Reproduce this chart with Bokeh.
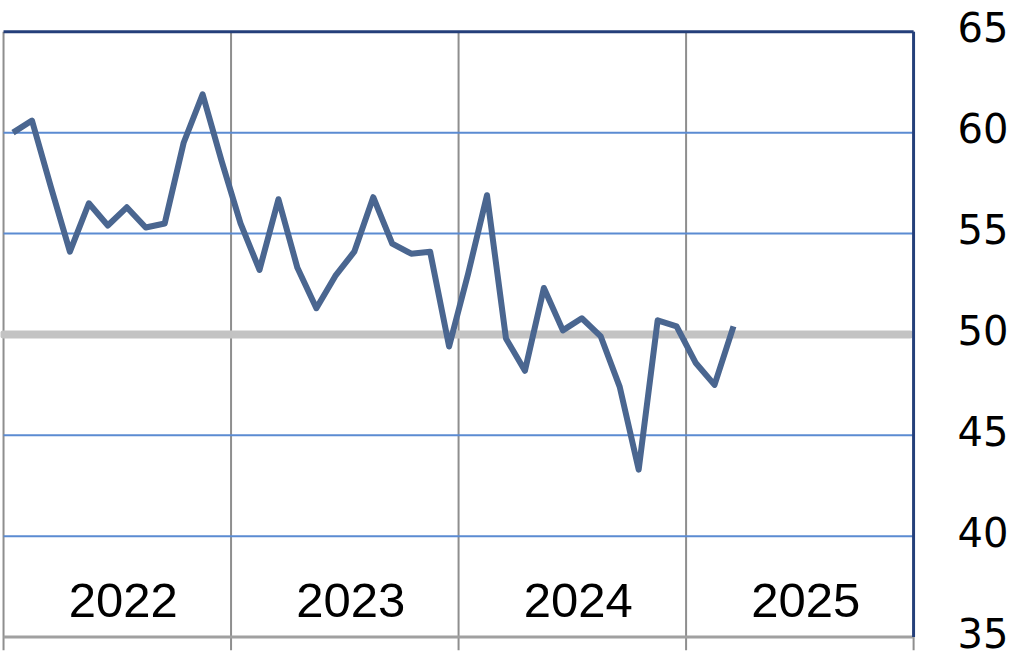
from bokeh.plotting import figure
from bokeh.models import (LinearAxis, FixedTicker, Range1d, ColumnDataSource, Grid,
                          CustomJSTickFormatter)
from bokeh.core.properties import value
from bokeh.embed import file_html
from bokeh.resources import INLINE

# ---- data (monthly index values, Jan 2022 - Mar 2025) ----
years = ["2022", "2023", "2024", "2025"]
month_names = ["Jan", "Feb", "Mar", "Apr", "May", "Jun",
               "Jul", "Aug", "Sep", "Oct", "Nov", "Dec"]
pmi_2022 = [60.0, 60.6, 57.3, 54.1, 56.5, 55.4, 56.3, 55.3, 55.5, 59.5, 61.9, 58.6]
pmi_2023 = [55.5, 53.2, 56.7, 53.3, 51.3, 52.9, 54.1, 56.8, 54.5, 54.0, 54.1, 49.4]
pmi_2024 = [53.0, 56.9, 49.8, 48.2, 52.3, 50.2, 50.8, 49.9, 47.4, 43.3, 50.7, 50.4]
pmi_2025 = [48.6, 47.5, 50.4]
y_ticks = [35, 40, 45, 50, 55, 60, 65]
blue_grid_levels = [40, 45, 55, 60]
reference_level = 50

values = pmi_2022 + pmi_2023 + pmi_2024 + pmi_2025
labels = [f"{m} {y}" for y in years for m in month_names][:len(values)]
x = [i + 0.5 for i in range(len(values))]          # month centres
n_months = 12 * len(years)
year_bounds = [12 * k for k in range(len(years) + 1)]
year_centres = [12 * k + 6 for k in range(len(years))]
y_lo, y_hi = min(y_ticks), max(y_ticks)
tick_len = 0.65      # length of the year tick marks below the axis (data units)
label_lift = 0.22    # right-hand labels sit slightly above their level

src = ColumnDataSource(dict(x=x, v=values, label=labels))

p = figure(width=1024, height=658,
           x_range=Range1d(-0.16, n_months + 0.1),
           y_range=Range1d(y_lo - 1.06, y_hi + 0.26),
           output_backend="svg", toolbar_location=None,
           x_axis_location=None, y_axis_location=None,
           min_border_left=0, min_border_right=109,
           min_border_top=26, min_border_bottom=0)
p.center = [c for c in p.center if not isinstance(c, Grid)]
p.outline_line_color = None
p.background_fill_color = "white"
p.border_fill_color = "white"

# vertical year lines (grey, continue below the axis as ticks)
p.segment(x0=year_bounds, x1=year_bounds,
          y0=[y_lo - tick_len] * len(year_bounds), y1=[y_hi] * len(year_bounds),
          line_color="#8E8E8E", line_width=2)

# horizontal blue grid lines
p.segment(x0=[0] * len(blue_grid_levels), x1=[n_months] * len(blue_grid_levels),
          y0=blue_grid_levels, y1=blue_grid_levels,
          line_color="#5B8BD2", line_width=2)

# thick grey 50 line
p.segment(x0=0, x1=n_months - 0.2, y0=reference_level, y1=reference_level,
          line_color="#C3C3C3", line_width=8, line_cap="round")

# bottom axis line
p.segment(x0=0, x1=n_months, y0=y_lo, y1=y_lo,
          line_color="#A0A0A0", line_width=3)

# data line
p.line("x", "v", source=src, line_color="#4A6690", line_width=6,
       line_join="round")

# top / right borders (navy)
p.segment(x0=0, x1=n_months, y0=y_hi, y1=y_hi,
          line_color="#243F7A", line_width=3)
p.segment(x0=n_months, x1=n_months, y0=y_lo, y1=y_hi,
          line_color="#243F7A", line_width=3)

# year labels inside plot
p.text(x=year_centres, y=[y_lo] * len(years), text=years,
       text_font=value("Liberation Sans"), text_font_size="49px",
       text_align="center", text_baseline="alphabetic",
       x_offset=6, y_offset=-37, text_color="black")

# right axis
ax = LinearAxis(ticker=FixedTicker(ticks=[t + label_lift for t in y_ticks]),
                formatter=CustomJSTickFormatter(code="return Math.round(tick).toString();"),
                axis_line_color=None, major_tick_line_color=None,
                minor_tick_line_color=None, major_tick_out=0, major_tick_in=0,
                major_label_standoff=42,
                major_label_text_font="DejaVu Sans",
                major_label_text_font_size="40px",
                major_label_text_color="black")
p.add_layout(ax, "right")

open("out.html", "w").write(file_html(p, INLINE))
